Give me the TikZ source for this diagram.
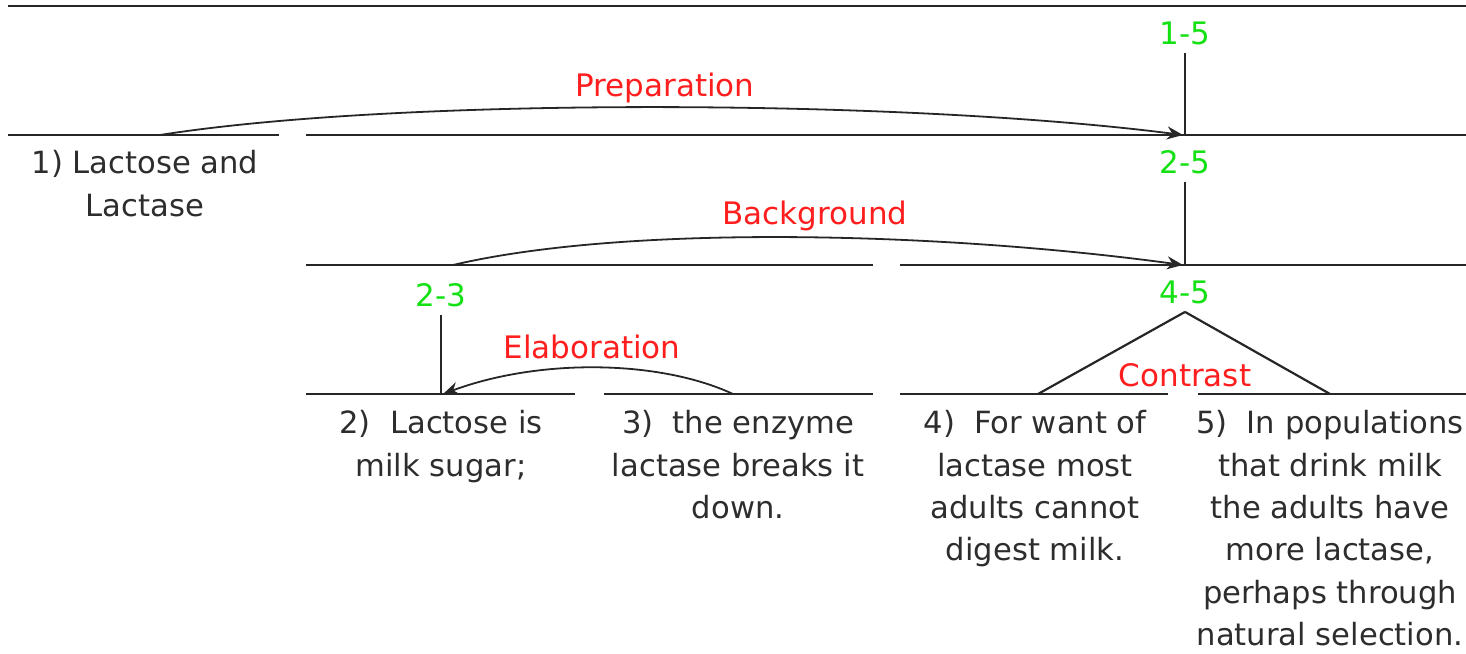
\documentclass[tikz,border=0pt]{standalone}
\usepackage{fontspec}
\setmainfont{DejaVu Sans}
\usetikzlibrary{arrows.meta,positioning}
\definecolor{relred}{RGB}{255,30,30}
\definecolor{spangreen}{RGB}{20,225,20}
\definecolor{unitgray}{RGB}{45,45,45}

\begin{document}
\begin{tikzpicture}[x=0.5pt, y=-0.5pt,
    unit/.style={align=center, inner sep=0pt, anchor=north, text=unitgray, font=\fontsize{15.3}{21.2}\selectfont},
    spanlabel/.style={text=spangreen, inner sep=4pt, font=\fontsize{15.5}{18}\selectfont},
    rel/.style={text=relred, inner sep=0pt, font=\fontsize{15.5}{18}\selectfont},
    seg/.style={line width=1.1pt, draw=black!85},
    arr/.style={-{Stealth[length=8pt, width=6.5pt]}, line width=0.9pt, draw=black!85}
]
\useasboundingbox (0,0) rectangle (1466,653);

% span ends
\coordinate (topL) at (8,6);     \coordinate (topR) at (1466,6);
\coordinate (s1L) at (8,135);    \coordinate (s1R) at (279,135);
\coordinate (s25L) at (306,135); \coordinate (s25R) at (1466,135);
\coordinate (s23L) at (306,265); \coordinate (s23R) at (873,265);
\coordinate (s45L) at (900,265); \coordinate (s45R) at (1466,265);
\coordinate (s2L) at (306,394);  \coordinate (s2R) at (575,394);
\coordinate (s3L) at (604,394);  \coordinate (s3R) at (873,394);
\coordinate (s4L) at (900,394);  \coordinate (s4R) at (1168,394);
\coordinate (s5L) at (1198,394); \coordinate (s5R) at (1466,394);

\draw[seg] (topL) -- (topR);
\draw[seg] (s1L) -- (s1R);
\draw[seg] (s25L) -- (s25R);
\draw[seg] (s23L) -- (s23R);
\draw[seg] (s45L) -- (s45R);
\draw[seg] (s2L) -- (s2R);
\draw[seg] (s3L) -- (s3R);
\draw[seg] (s4L) -- (s4R);
\draw[seg] (s5L) -- (s5R);

% span labels
\node[spanlabel] (n15) at (1185,33) {1-5};
\node[spanlabel] (n25) at (1185,162) {2-5};
\node[spanlabel] (n23) at (441,295) {2-3};
\node[spanlabel] (n45) at (1185,292) {4-5};

% heads of the nuclei
\coordinate (h25) at (1185,135);
\coordinate (h45) at (1185,265);
\coordinate (h2) at (441,394);
\coordinate (h4) at (1038,394);
\coordinate (h5) at (1330,394);

\draw[seg] (n15.south) -- (h25);
\draw[seg] (n25.south) -- (h45);
\draw[seg] (n23.south) -- (h2);
\draw[seg] (n45.south) -- (h4);
\draw[seg] (n45.south) -- (h5);

% satellites
\coordinate (sat1) at (160,135);
\coordinate (sat23) at (453,265);
\coordinate (sat3) at (733,394);
\coordinate (tip25) at (1183,135);
\coordinate (tip45) at (1183,265);
\coordinate (tip2) at (443,394);

\draw[arr] (sat1) .. controls +(240,-38) and +(-280,-36) .. (tip25);
\draw[arr] (sat23) .. controls +(170,-40) and +(-250,-34) .. (tip45);
\draw[arr] (sat3) .. controls +(-73,-34) and +(97,-36) .. (tip2);

% relation names
\node[rel] (prep) at (665,88) {Preparation};
\node[rel] (backg) at (815,216) {Background};
\node[rel] (elab) at (592,347) {Elaboration};
\node[rel] (contr) at (1185,375) {Contrast};

% units
\node[unit] (u1) at (145,150) {1) Lactose and\\Lactase};
\node[unit] (u2) at (441,410) {2)~ Lactose is\\milk sugar;};
\node[unit] (u3) at (738,410) {3)~ the enzyme\\lactase breaks it\\down.};
\node[unit] (u4) at (1035,410) {4)~ For want of\\lactase most\\adults cannot\\digest milk.};
\node[unit] (u5) at (1330,410) {5)~ In populations\\that drink milk\\the adults have\\more lactase,\\perhaps through\\natural selection.};
\end{tikzpicture}
\end{document}
